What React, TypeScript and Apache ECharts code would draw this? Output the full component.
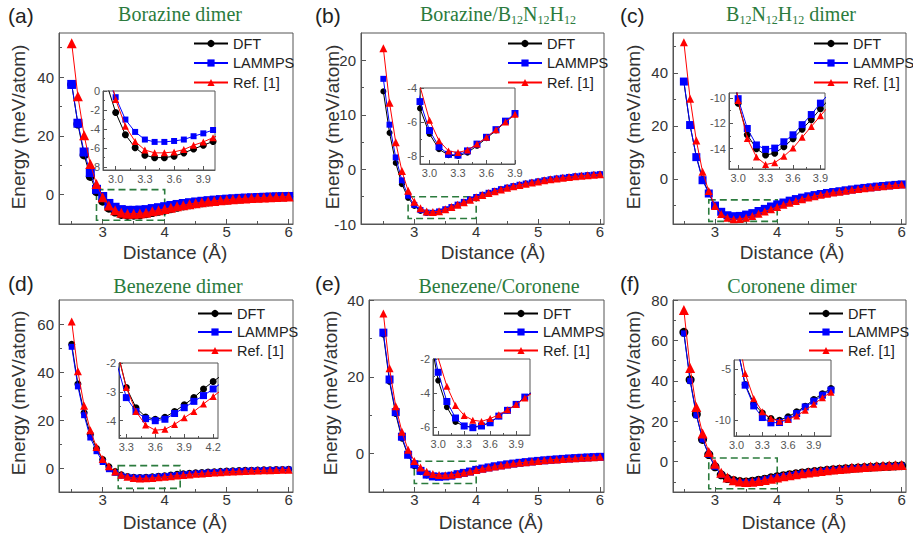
import React, { useEffect, useRef } from 'react';
import * as echarts from 'echarts';

// ---------- data ----------
const DIST = [2.5, 2.6, 2.7, 2.8, 2.9, 3.0, 3.1, 3.2, 3.3, 3.4, 3.5, 3.6, 3.7, 3.8, 3.9, 4.0, 4.1, 4.2, 4.3, 4.4, 4.5, 4.6, 4.7, 4.8, 4.9, 5.0, 5.1, 5.2, 5.3, 5.4, 5.5, 5.6, 5.7, 5.8, 5.9, 6.0];
const SERIES_NAMES = ['DFT', 'LAMMPS', 'Ref. [1]'];

// (a) Borazine dimer
const A_DFT = [37.5, 24.0, 13.5, 6.2, 1.0, -2.25, -4.6, -5.95, -6.75, -7.0, -7.0, -6.85, -6.5, -6.1, -5.7, -5.3, -4.8, -4.3, -3.85, -3.45, -3.1, -2.78, -2.5, -2.25, -2.03, -1.83, -1.65, -1.49, -1.35, -1.22, -1.1, -1.0, -0.9, -0.82, -0.74, -0.67];
const A_LMP = [37.5, 24.3, 14.5, 7.5, 1.8, -0.65, -3.0, -4.3, -5.1, -5.35, -5.35, -5.25, -5.1, -4.75, -4.45, -4.1, -3.7, -3.35, -3.03, -2.75, -2.5, -2.27, -2.06, -1.87, -1.7, -1.55, -1.41, -1.28, -1.17, -1.07, -0.98, -0.9, -0.82, -0.75, -0.69, -0.63];
const A_REF = [51.5, 33.5, 20.2, 10.4, 3.6, -0.9, -3.7, -5.3, -6.2, -6.5, -6.5, -6.4, -6.15, -5.7, -5.35, -4.9, -4.45, -4.0, -3.6, -3.24, -2.92, -2.63, -2.37, -2.14, -1.93, -1.75, -1.58, -1.43, -1.3, -1.18, -1.07, -0.97, -0.88, -0.8, -0.73, -0.66];
const A_BOX = [[2.9, 1.7], [4.0, -8.7]];

// (b) Borazine/B12N12H12
const B_DFT = [14.3, 6.7, 1.2, -2.7, -5.2, -6.7, -7.6, -7.95, -8.0, -7.8, -7.4, -6.95, -6.5, -6.0, -5.55, -5.1, -4.7, -4.32, -3.97, -3.65, -3.35, -3.08, -2.83, -2.6, -2.4, -2.2, -2.0, -1.82, -1.66, -1.52, -1.39, -1.27, -1.16, -1.06, -0.97, -0.88];
const B_LMP = [16.6, 8.2, 2.2, -2.0, -4.8, -6.5, -7.45, -7.9, -7.95, -7.7, -7.3, -6.9, -6.45, -5.95, -5.5, -5.05, -4.65, -4.28, -3.94, -3.62, -3.33, -3.06, -2.81, -2.59, -2.39, -2.19, -1.99, -1.81, -1.65, -1.51, -1.38, -1.26, -1.15, -1.05, -0.96, -0.87];
const B_REF = [22.2, 12.2, 5.0, -0.3, -3.9, -5.9, -7.1, -7.7, -7.8, -7.65, -7.3, -6.9, -6.45, -6.0, -5.55, -5.1, -4.7, -4.33, -3.98, -3.66, -3.36, -3.09, -2.84, -2.61, -2.4, -2.2, -2.0, -1.82, -1.66, -1.52, -1.39, -1.27, -1.16, -1.06, -0.97, -0.88];
const B_BOX = [[2.9, -5.0], [4.0, -9.0]];

// (c) B12N12H12 dimer
const C_DFT = [36.5, 20.0, 8.5, 0.0, -5.2, -10.4, -12.9, -14.0, -14.5, -14.35, -13.85, -13.2, -12.45, -11.7, -10.85, -10.05, -9.3, -8.6, -7.95, -7.35, -6.8, -6.3, -5.85, -5.45, -5.1, -4.8, -4.4, -4.05, -3.75, -3.45, -3.2, -2.95, -2.72, -2.5, -2.3, -2.1];
const C_LMP = [36.7, 20.3, 8.2, -0.5, -5.5, -10.05, -12.4, -13.7, -14.05, -13.95, -13.45, -12.9, -12.1, -11.3, -10.4, -9.6, -8.9, -8.2, -7.6, -7.05, -6.55, -6.1, -5.7, -5.3, -4.95, -4.65, -4.3, -3.98, -3.68, -3.4, -3.15, -2.9, -2.68, -2.46, -2.26, -2.07];
const C_REF = [51.5, 30.2, 14.5, 2.7, -4.6, -10.2, -13.2, -14.65, -15.25, -15.1, -14.6, -13.95, -13.1, -12.25, -11.4, -10.55, -9.75, -9.0, -8.3, -7.65, -7.05, -6.5, -6.0, -5.55, -5.15, -4.8, -4.45, -4.1, -3.8, -3.5, -3.23, -2.98, -2.75, -2.53, -2.32, -2.13];
const C_BOX = [[2.9, -7.9], [4.0, -16.0]];

// (d) Benezene dimer
const D_DFT = [51.5, 35.0, 23.0, 14.0, 8.1, 3.5, 0.5, -1.5, -2.85, -3.55, -3.87, -3.95, -3.88, -3.68, -3.45, -3.2, -2.9, -2.64, -2.4, -2.2, -2.0, -1.85, -1.7, -1.55, -1.42, -1.3, -1.2, -1.1, -1.0, -0.92, -0.85, -0.78, -0.72, -0.66, -0.6, -0.55];
const D_LMP = [50.5, 34.0, 22.0, 12.7, 7.0, 2.5, -0.5, -2.0, -3.2, -3.68, -3.93, -4.0, -3.95, -3.75, -3.55, -3.33, -3.13, -2.9, -2.65, -2.42, -2.22, -2.04, -1.88, -1.72, -1.58, -1.45, -1.33, -1.22, -1.12, -1.03, -0.95, -0.88, -0.81, -0.75, -0.69, -0.64];
const D_REF = [61.0, 40.3, 25.9, 15.7, 8.7, 3.8, 0.7, -1.5, -2.85, -3.68, -4.15, -4.33, -4.3, -4.13, -3.9, -3.68, -3.42, -3.16, -2.9, -2.66, -2.44, -2.24, -2.06, -1.89, -1.74, -1.6, -1.47, -1.35, -1.24, -1.14, -1.05, -0.97, -0.89, -0.82, -0.76, -0.7];
const D_BOX = [[3.25, 1.0], [4.25, -8.5]];

// (e) Benezene/Coronene
const E_DFT = [31.0, 18.7, 10.3, 3.9, -0.5, -3.27, -4.83, -5.7, -5.95, -6.0, -5.92, -5.73, -5.36, -5.02, -4.67, -4.24, -3.9, -3.6, -3.3, -3.05, -2.8, -2.6, -2.4, -2.22, -2.05, -1.9, -1.75, -1.62, -1.5, -1.38, -1.27, -1.17, -1.08, -0.99, -0.91, -0.84];
const E_LMP = [31.5, 19.3, 10.8, 4.4, -0.3, -2.78, -4.5, -5.47, -5.94, -6.04, -5.94, -5.75, -5.36, -5.02, -4.67, -4.24, -3.9, -3.6, -3.3, -3.05, -2.8, -2.6, -2.4, -2.22, -2.05, -1.9, -1.75, -1.62, -1.5, -1.38, -1.27, -1.17, -1.08, -0.99, -0.91, -0.84];
const E_REF = [36.5, 22.2, 12.3, 5.7, 1.0, -1.95, -3.6, -4.73, -5.32, -5.6, -5.67, -5.5, -5.28, -4.99, -4.67, -4.3, -3.95, -3.63, -3.33, -3.07, -2.82, -2.61, -2.41, -2.23, -2.06, -1.91, -1.76, -1.63, -1.51, -1.39, -1.28, -1.18, -1.09, -1.0, -0.92, -0.85];
const E_BOX = [[3.0, -2.0], [4.0, -7.8]];

// (f) Coronene dimer
const F_DFT = [64.0, 40.5, 23.5, 11.0, 3.5, -2.5, -6.5, -8.37, -9.3, -9.84, -10.0, -9.67, -9.18, -8.63, -7.97, -7.4, -6.9, -6.45, -6.0, -5.6, -5.25, -4.9, -4.6, -4.3, -4.0, -3.75, -3.5, -3.3, -3.1, -2.9, -2.7, -2.55, -2.4, -2.25, -2.1, -2.0];
const F_LMP = [63.5, 40.0, 23.0, 11.0, 3.5, -2.5, -6.57, -8.6, -9.74, -10.26, -10.23, -9.9, -9.35, -8.7, -8.14, -7.55, -7.05, -6.58, -6.12, -5.7, -5.33, -4.98, -4.66, -4.36, -4.08, -3.82, -3.58, -3.36, -3.15, -2.96, -2.78, -2.61, -2.45, -2.3, -2.16, -2.03];
const F_REF = [75.0, 46.4, 27.0, 13.9, 4.8, -1.0, -5.42, -7.87, -9.18, -9.84, -10.1, -9.93, -9.58, -9.02, -8.43, -7.8, -7.25, -6.72, -6.22, -5.76, -5.33, -4.93, -4.56, -4.22, -3.9, -3.6, -3.32, -3.06, -2.82, -2.6, -2.4, -2.21, -2.04, -1.88, -1.73, -1.6];
const F_BOX = [[2.9, 1.8], [4.0, -13.4]];

// tick labels
const MAIN_X_TICKS = [3, 4, 5, 6];
const MAIN_X_MINOR = [2.5, 3.5, 4.5, 5.5];
const INSET_X_TICKS = [3.0, 3.3, 3.6, 3.9];
const INSET_X_MINOR = [3.15, 3.45, 3.75];
const INSET_D_X_TICKS = [3.3, 3.6, 3.9, 4.2];
const INSET_D_X_MINOR = [3.45, 3.75, 4.05];

// ---------- styling / layout ----------
const SANS = "'Liberation Sans', Arial, Helvetica, sans-serif";
const SERIF = "'Liberation Serif', 'Times New Roman', serif";
const GREEN = '#2b7b3d';
const AX = '#555';
const COLORS = ['#000000', '#0000ff', '#ff0000'];
const SYMBOLS = ['circle', 'rect', 'triangle'];

const PANELS = [
  {
    letter: '(a)', title: '{t|Borazine dimer}', data: [A_DFT, A_LMP, A_REF], box: A_BOX,
    grid: [59, 33, 234, 191], xr: [2.295, 6.07], yr: [-10, 55], yl: [0, 20, 40], ym: [-10, 10, 30, 50],
    inset: [103, 91, 112, 79], ixr: [2.87, 4.02], iyr: [-8.3, 0], ixl: INSET_X_TICKS, ixm: INSET_X_MINOR, iyl: [-8, -6, -4, -2, 0], iym: [-7, -5, -3, -1],
    legend: [193, 36, 4.5], lab: [8, 15], ttl: [180, 14], yn: [18, 127], xn: [175, 252], sym: [9, 9, 10], isym: [7, 6, 7],
  },
  {
    letter: '(b)', title: '{t|Borazine/B}{s|12}{t|N}{s|12}{t|H}{s|12}', data: [B_DFT, B_LMP, B_REF], box: B_BOX,
    grid: [361, 33, 243, 191], xr: [2.139, 6.065], yr: [-10, 25], yl: [-10, 0, 10, 20], ym: [-5, 5, 15],
    inset: [420, 88, 95, 76], ixr: [2.9, 3.9], iyr: [-8.47, -4], ixl: INSET_X_TICKS, ixm: INSET_X_MINOR, iyl: [-8, -6, -4], iym: [-7, -5],
    legend: [507, 36, 4.5], lab: [315, 15], ttl: [498, 14], yn: [332, 127], xn: [493, 252], sym: [6, 6, 8], isym: [6, 7, 7],
  },
  {
    letter: '(c)', title: '{t|B}{s|12}{t|N}{s|12}{t|H}{s|12}{t| dimer}', data: [C_DFT, C_LMP, C_REF], box: C_BOX,
    grid: [673, 33, 233, 191], xr: [2.325, 6.07], yr: [-17, 55], yl: [0, 20, 40], ym: [-10, 10, 30, 50],
    inset: [729, 93, 96, 76], ixr: [2.9, 3.95], iyr: [-15.6, -9.6], ixl: INSET_X_TICKS, ixm: INSET_X_MINOR, iyl: [-14, -12, -10], iym: [-15, -13, -11],
    legend: [813, 36, 4.5], lab: [620, 15], ttl: [791, 14], yn: [633, 127], xn: [792, 252], sym: [6, 8, 8], isym: [7, 7, 7],
  },
  {
    letter: '(d)', title: '{t|Benezene dimer}', data: [D_DFT, D_LMP, D_REF], box: D_BOX,
    grid: [59, 300, 234, 192], xr: [2.295, 6.07], yr: [-10, 70], yl: [0, 20, 40, 60], ym: [-10, 10, 30, 50],
    inset: [119, 363, 99, 75], ixr: [3.224, 4.25], iyr: [-4.6, -2], ixl: INSET_D_X_TICKS, ixm: INSET_D_X_MINOR, iyl: [-4, -3, -2], iym: [-4.5, -3.5, -2.5],
    legend: [197, 306, 3.5], lab: [8, 283], ttl: [178, 286], yn: [18, 393], xn: [175, 522], sym: [7, 6, 8], isym: [7, 7, 7],
  },
  {
    letter: '(e)', title: '{t|Benezene/Coronene}', data: [E_DFT, E_LMP, E_REF], box: E_BOX,
    grid: [369, 300, 235, 192], xr: [2.268, 6.065], yr: [-10, 40], yl: [0, 20, 40], ym: [-10, 10, 30],
    inset: [433, 359, 97, 76], ixr: [2.94, 4.06], iyr: [-6.47, -2], ixl: INSET_X_TICKS, ixm: INSET_X_MINOR, iyl: [-6, -4, -2], iym: [-5, -3],
    legend: [503, 306, 3.5], lab: [315, 283], ttl: [499, 286], yn: [330, 393], xn: [491, 522], sym: [6, 8, 8], isym: [6, 7, 7],
  },
  {
    letter: '(f)', title: '{t|Coronene dimer}', data: [F_DFT, F_LMP, F_REF], box: F_BOX,
    grid: [673, 300, 233, 192], xr: [2.325, 6.07], yr: [-15, 80], yl: [0, 20, 40, 60, 80], ym: [-10, 10, 30, 50, 70],
    inset: [734, 360, 97, 76], ixr: [2.97, 4.1], iyr: [-11.55, -4.1], ixl: INSET_X_TICKS, ixm: INSET_X_MINOR, iyl: [-10, -5], iym: [-7.5],
    legend: [808, 306, 3.5], lab: [620, 283], ttl: [792, 286], yn: [633, 393], xn: [794, 522], sym: [9, 6, 10], isym: [7, 7, 7],
  },
];

function gridOf(r: number[]) {
  return {
    left: r[0], top: r[1], width: r[2], height: r[3],
    show: true, borderColor: AX, borderWidth: 1, backgroundColor: 'transparent',
    containLabel: false, outerBoundsMode: 'none',
  };
}

function axis(dim: 'x' | 'y', gridIndex: number, range: number[], ticks: number[], big: boolean, fmt?: (v: number) => string) {
  return {
    type: 'value', gridIndex, min: range[0], max: range[1],
    position: dim === 'x' ? 'bottom' : 'left',
    axisLine: { show: true, onZero: false, lineStyle: { color: AX, width: 1 } },
    axisTick: { show: true, inside: true, length: big ? 5 : 4, customValues: ticks, lineStyle: { color: AX, width: 1 } },
    axisLabel: {
      show: true, customValues: ticks, color: big ? '#333' : '#555',
      fontSize: big ? 15 : 11, fontFamily: SANS, margin: big ? (dim === 'x' ? 0 : 5) : 3,
      formatter: fmt || ((v: number) => String(v)),
    },
    splitLine: { show: false },
  };
}

function minorAxis(dim: 'x' | 'y', gridIndex: number, range: number[], ticks: number[], big: boolean) {
  return {
    type: 'value', gridIndex, min: range[0], max: range[1],
    position: dim === 'x' ? 'bottom' : 'left',
    axisLine: { show: false, onZero: false },
    axisTick: { show: true, inside: true, length: big ? 3 : 2, customValues: ticks, lineStyle: { color: AX, width: 1 } },
    axisLabel: { show: false },
    splitLine: { show: false },
  };
}

function buildOption() {
  const grids: any[] = [];
  const xAxes: any[] = [];
  const yAxes: any[] = [];
  const series: any[] = [];
  const legends: any[] = [];
  const graphics: any[] = [];
  const n = PANELS.length;

  PANELS.forEach((p) => grids.push(gridOf(p.grid)));
  PANELS.forEach((p) => grids.push(gridOf(p.inset)));

  PANELS.forEach((p, i) => {
    xAxes[i] = axis('x', i, p.xr, MAIN_X_TICKS, true);
    yAxes[i] = axis('y', i, p.yr, p.yl, true);
    xAxes[n + i] = axis('x', n + i, p.ixr, p.ixl, false, (v: number) => v.toFixed(1));
    yAxes[n + i] = axis('y', n + i, p.iyr, p.iyl, false);
    xAxes[2 * n + i] = minorAxis('x', i, p.xr, MAIN_X_MINOR, true);
    yAxes[2 * n + i] = minorAxis('y', i, p.yr, p.ym, true);
    xAxes[3 * n + i] = minorAxis('x', n + i, p.ixr, p.ixm, false);
    yAxes[3 * n + i] = minorAxis('y', n + i, p.iyr, p.iym, false);

    p.data.forEach((arr, k) => {
      const pts = DIST.map((x, j) => [x, arr[j]]);
      const base = {
        type: 'line', name: SERIES_NAMES[k], data: pts, symbol: SYMBOLS[k],
        itemStyle: { color: COLORS[k] }, lineStyle: { color: COLORS[k], width: 1 },
        clip: true, silent: true, z: 2 + k,
      };
      const main: any = { ...base, xAxisIndex: i, yAxisIndex: i, symbolSize: p.sym[k] };
      if (k === 0) {
        main.markArea = {
          silent: true,
          itemStyle: { color: 'rgba(0,0,0,0)', borderColor: GREEN, borderWidth: 1.6, borderType: [7, 4] },
          data: [[{ coord: p.box[0] }, { coord: p.box[1] }]],
        };
      }
      series.push(main);
      series.push({ ...base, xAxisIndex: n + i, yAxisIndex: n + i, symbolSize: p.isym[k] });
    });

    legends.push({
      left: p.legend[0], top: p.legend[1], orient: 'vertical', padding: 0,
      itemWidth: 34, itemHeight: 9, itemGap: p.legend[2], selectedMode: false,
      textStyle: { fontSize: 14.5, color: '#222', fontFamily: SANS },
      data: SERIES_NAMES,
    });

    graphics.push({
      type: 'text', x: p.lab[0], y: p.lab[1],
      style: { text: p.letter, fill: '#222', fontSize: 21, fontFamily: SANS, align: 'left', verticalAlign: 'middle' },
    });
    graphics.push({
      type: 'text', x: p.ttl[0], y: p.ttl[1],
      style: {
        text: p.title, align: 'center', verticalAlign: 'middle',
        rich: {
          t: { fontSize: 20, fontFamily: SERIF, fill: GREEN, lineHeight: 24 },
          s: { fontSize: 12, fontFamily: SERIF, fill: GREEN, lineHeight: 12, padding: [12, 0, 0, 0] },
        },
      },
    });
    graphics.push({
      type: 'text', x: p.yn[0], y: p.yn[1], rotation: Math.PI / 2,
      style: { text: 'Energy (meV/atom)', fill: '#333', fontSize: 19, fontFamily: SANS, align: 'center', verticalAlign: 'middle' },
    });
    graphics.push({
      type: 'text', x: p.xn[0], y: p.xn[1],
      style: { text: 'Distance (Å)', fill: '#333', fontSize: 19, fontFamily: SANS, align: 'center', verticalAlign: 'middle' },
    });
  });

  return {
    animation: false,
    backgroundColor: '#ffffff',
    grid: grids,
    xAxis: xAxes,
    yAxis: yAxes,
    legend: legends,
    series,
    graphic: graphics,
  };
}

export default function App() {
  const ref = useRef<HTMLDivElement>(null);
  useEffect(() => {
    if (!ref.current) return;
    const chart = echarts.init(ref.current, undefined, { renderer: 'svg' });
    chart.setOption(buildOption() as any);
    return () => chart.dispose();
  }, []);
  return <div ref={ref} style={{ position: 'absolute', left: 0, top: 0, width: 913, height: 539 }} />;
}
